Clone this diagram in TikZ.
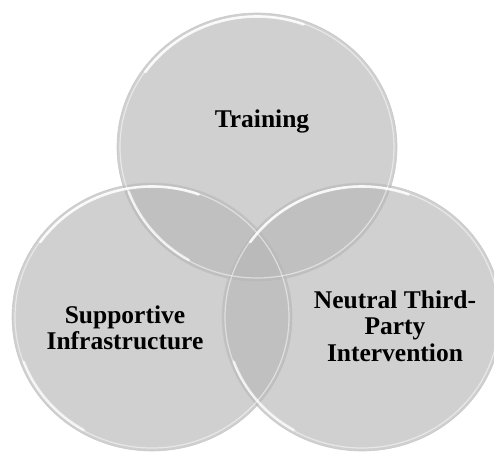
\documentclass[tikz,border=0pt]{standalone}
\usepackage{fontspec}
\setmainfont{Liberation Serif}
\usetikzlibrary{shapes.geometric}
\definecolor{bubblegray}{RGB}{184,184,184}
\definecolor{rimgray}{RGB}{196,196,196}
\begin{document}
\begin{tikzpicture}[x=1pt,y=-1pt,
  bubble/.style={ellipse, inner sep=0pt, minimum width=280pt, minimum height=268pt,
    fill=bubblegray, fill opacity=0.66, draw=rimgray, draw opacity=0.8, line width=0.6pt},
  innerring/.style={white, line width=1.2pt, opacity=0.5},
  rimlight/.style={white, line width=2.6pt, opacity=0.85, line cap=round},
  vtext/.style={font=\bfseries\fontsize{25.5}{26.5}\selectfont, align=center, text=black, inner sep=0pt}]
\useasboundingbox (0,0) rectangle (494,452);
\fill[white] (0,0) rectangle (494,452);
\clip (0,0) rectangle (494,452);
\node[bubble] (top) at (257,147) {};
\node[bubble] (left) at (152,317) {};
\node[bubble] (right) at (362,317) {};
\foreach \c in {top,left,right}{
  \draw[innerring] (\c.center) ellipse [x radius=137pt, y radius=131pt];
  \draw[rimlight] ([shift={(145:136.5pt and 130.5pt)}]\c.center) arc[start angle=145, end angle=70, x radius=136.5pt, y radius=130.5pt];
  \draw[rimlight, opacity=0.7] ([shift={(200:136.5pt and 130.5pt)}]\c.center) arc[start angle=200, end angle=240, x radius=136.5pt, y radius=130.5pt];
}
\node[vtext] (ttrain) at (262,121) {Training};
\node[vtext] (tsupp) at (125,328) {Supportive\\Infrastructure};
\node[vtext] (tneut) at (395,326) {Neutral Third-\\Party\\Intervention};
\end{tikzpicture}
\end{document}
